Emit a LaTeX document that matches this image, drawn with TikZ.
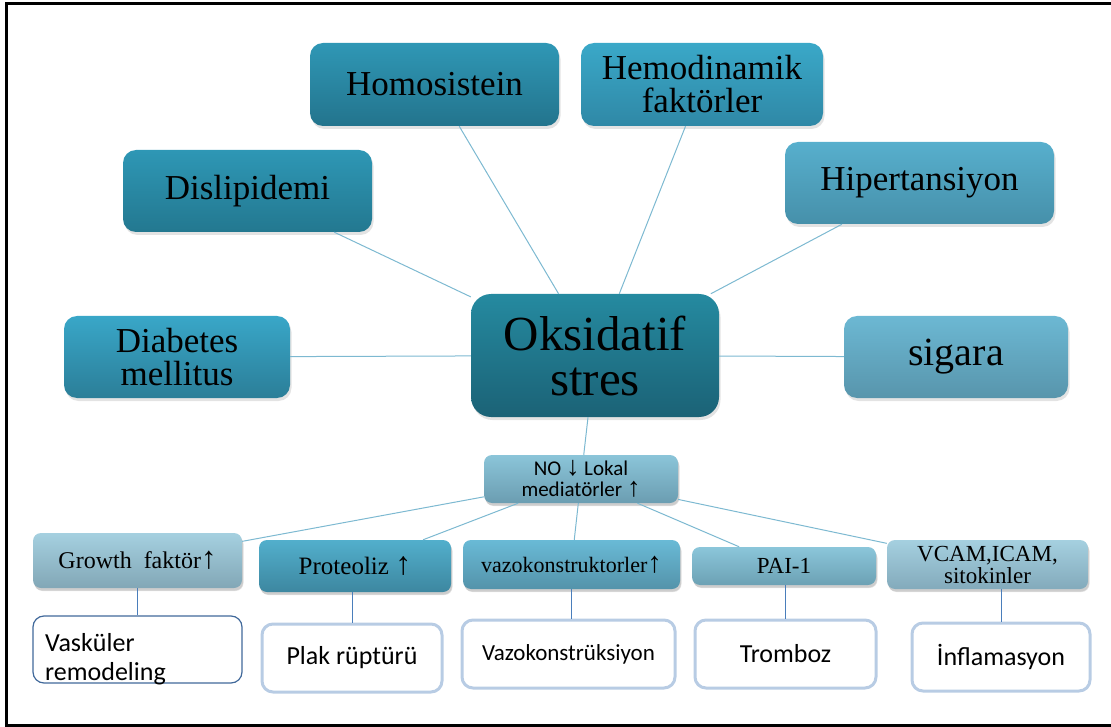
\documentclass[tikz,border=0pt]{standalone}
\usepackage{fontspec}
\setmainfont{Liberation Serif}
\newfontfamily\carl{Carlito}
\newfontfamily\arr{Liberation Sans}
\usetikzlibrary{shadows}
\definecolor{lineblue}{HTML}{7DB9D1}
\definecolor{vblue}{HTML}{4A7EBB}
\definecolor{bordblue}{HTML}{B8CCE4}
\definecolor{darkbord}{HTML}{41699B}
\newcommand{\bigarr}[2]{{\fontsize{#1}{#1}\selectfont #2}}
\begin{document}
\begin{tikzpicture}[x=1pt,y=-1pt,
  box/.style={rectangle, rounded corners=13pt, inner sep=1pt, align=center,
    drop shadow={opacity=0.22, shadow xshift=1.5pt, shadow yshift=-3pt}},
  big/.style={box, font=\fontsize{35}{33}\selectfont},
  small/.style={box, rounded corners=8pt, drop shadow={opacity=0.22, shadow xshift=1pt, shadow yshift=-2.5pt}},
  wbox/.style={rectangle, draw=bordblue, line width=3pt, fill=white, rounded corners=11pt,
    inner sep=1pt, align=center, font=\carl\fontsize{26}{29}\selectfont},
  conn/.style={draw=lineblue, line width=1pt},
  vconn/.style={draw=vblue, line width=1pt}]
\useasboundingbox (0,0) rectangle (1111,727);
% frame
\draw[line width=3.4pt] (1111,3.4) -- (6.5,3.4) -- (6.5,725.8) -- (1111,725.8);

% top nodes
\node[big, minimum width=249, minimum height=83, top color={rgb,255:red,47;green,151;blue,181}, bottom color={rgb,255:red,35;green,116;blue,141}] (homo) at (434.5,84.5) {Homosistein};
\node[big, minimum width=242, minimum height=83, top color={rgb,255:red,58;green,168;blue,200}, bottom color={rgb,255:red,47;green,136;blue,166}] (hemo) at (702,84.5) {Hemodinamik\\faktörler};
\node[big, minimum width=269, minimum height=82, top color={rgb,255:red,87;green,175;blue,205}, bottom color={rgb,255:red,70;green,144;blue,170}] (hiper) at (919.5,183) {Hipertansiyon};
\node[big, minimum width=249, minimum height=82, top color={rgb,255:red,46;green,151;blue,181}, bottom color={rgb,255:red,35;green,120;blue,144}] (disli) at (247.5,191) {Dislipidemi};
\node[big, minimum width=226, minimum height=82, top color={rgb,255:red,57;green,167;blue,200}, bottom color={rgb,255:red,43;green,126;blue,152}] (diab) at (177,357) {Diabetes\\mellitus};
\node[big, rounded corners=20pt, font=\fontsize{49}{45}\selectfont, minimum width=248, minimum height=123, top color={rgb,255:red,37;green,138;blue,160}, bottom color={rgb,255:red,27;green,98;blue,118}] (ox) at (595,355.5) {Oksidatif\\stres};
\node[big, font=\fontsize{40}{40}\selectfont, minimum width=224, minimum height=82, top color={rgb,255:red,108;green,184;blue,211}, bottom color={rgb,255:red,88;green,149;blue,172}] (sig) at (956,357) {sigara};

% NO node
\node[small, font=\carl\fontsize{21}{21}\selectfont, minimum width=194, minimum height=48, top color={rgb,255:red,139;green,197;blue,217}, bottom color={rgb,255:red,107;green,157;blue,177}] (no) at (581,479) {NO {\arr\bigarr{27}{↓}} Lokal\\mediatörler {\arr\bigarr{27}{↑}}};

% middle row
\node[small, font=\fontsize{24}{24}\selectfont, minimum width=209, minimum height=55, top color={rgb,255:red,165;green,208;blue,224}, bottom color={rgb,255:red,130;green,167;blue,182}] (grow) at (137.5,560.5) {Growth\ \ faktör\bigarr{31}{↑}};
\node[small, font=\fontsize{25}{25}\selectfont, minimum width=192, minimum height=52, top color={rgb,255:red,82;green,175;blue,204}, bottom color={rgb,255:red,61;green,135;blue,160}] (prot) at (355,566) {Proteoliz \bigarr{32}{↑}};
\node[small, font=\fontsize{22}{22}\selectfont, minimum width=217, minimum height=49, top color={rgb,255:red,105;green,186;blue,214}, bottom color={rgb,255:red,84;green,147;blue,170}] (vazo) at (571.5,564.5) {vazokonstruktorler\bigarr{29}{↑}};
\node[small, font=\fontsize{23}{23}\selectfont, minimum width=184, minimum height=38, top color={rgb,255:red,139;green,198;blue,218}, bottom color={rgb,255:red,108;green,161;blue,180}] (pai) at (784,566) {PAI-1};
\node[small, font=\fontsize{23}{22}\selectfont, minimum width=201, minimum height=49, top color={rgb,255:red,165;green,208;blue,224}, bottom color={rgb,255:red,131;green,170;blue,187}] (vcam) at (987.5,564.5) {VCAM,ICAM,\\sitokinler};

% bottom row
\node[wbox, draw=darkbord, line width=1.2pt, minimum width=209, minimum height=67] (vask) at (137.5,649.5) {};
\node[anchor=north west, inner sep=0pt, align=left, font=\carl\fontsize{26}{29}\selectfont] (vasktxt) at (45,633) {Vasküler\\remodeling};
\node[wbox, minimum width=180, minimum height=68] (plak) at (352,658) {Plak rüptürü};
\node[wbox, font=\carl\fontsize{23}{26}\selectfont, minimum width=213, minimum height=68] (vazk) at (568.5,654) {Vazokonstrüksiyon};
\node[wbox, minimum width=181, minimum height=68] (trom) at (785.5,654) {Tromboz};
\node[wbox, minimum width=178, minimum height=68] (infl) at (1001,657) {İnflamasyon};

% connectors to the centre
\draw[conn] (homo) -- (ox);
\draw[conn] (hemo) -- (ox);
\draw[conn] (hiper) -- (ox);
\draw[conn] (disli) -- (ox);
\draw[conn] (diab) -- (ox);
\draw[conn] (sig) -- (ox);
\draw[conn] (ox) -- (no);
% from NO
\draw[conn] (no) -- (grow);
\draw[conn] (no) -- (prot);
\draw[conn] (no) -- (vazo);
\draw[conn] (no) -- (pai);
\draw[conn] (no) -- (vcam);
% vertical
\draw[vconn] (vask.north -| grow.south) -- (grow.south);
\draw[vconn] (plak.north) -- (plak.north |- prot.south);
\draw[vconn] (vazk.north -| vazo.south) -- (vazo.south);
\draw[vconn] (trom.north) -- (trom.north |- pai.south);
\draw[vconn] (infl.north) -- (infl.north |- vcam.south);
\end{tikzpicture}
\end{document}
